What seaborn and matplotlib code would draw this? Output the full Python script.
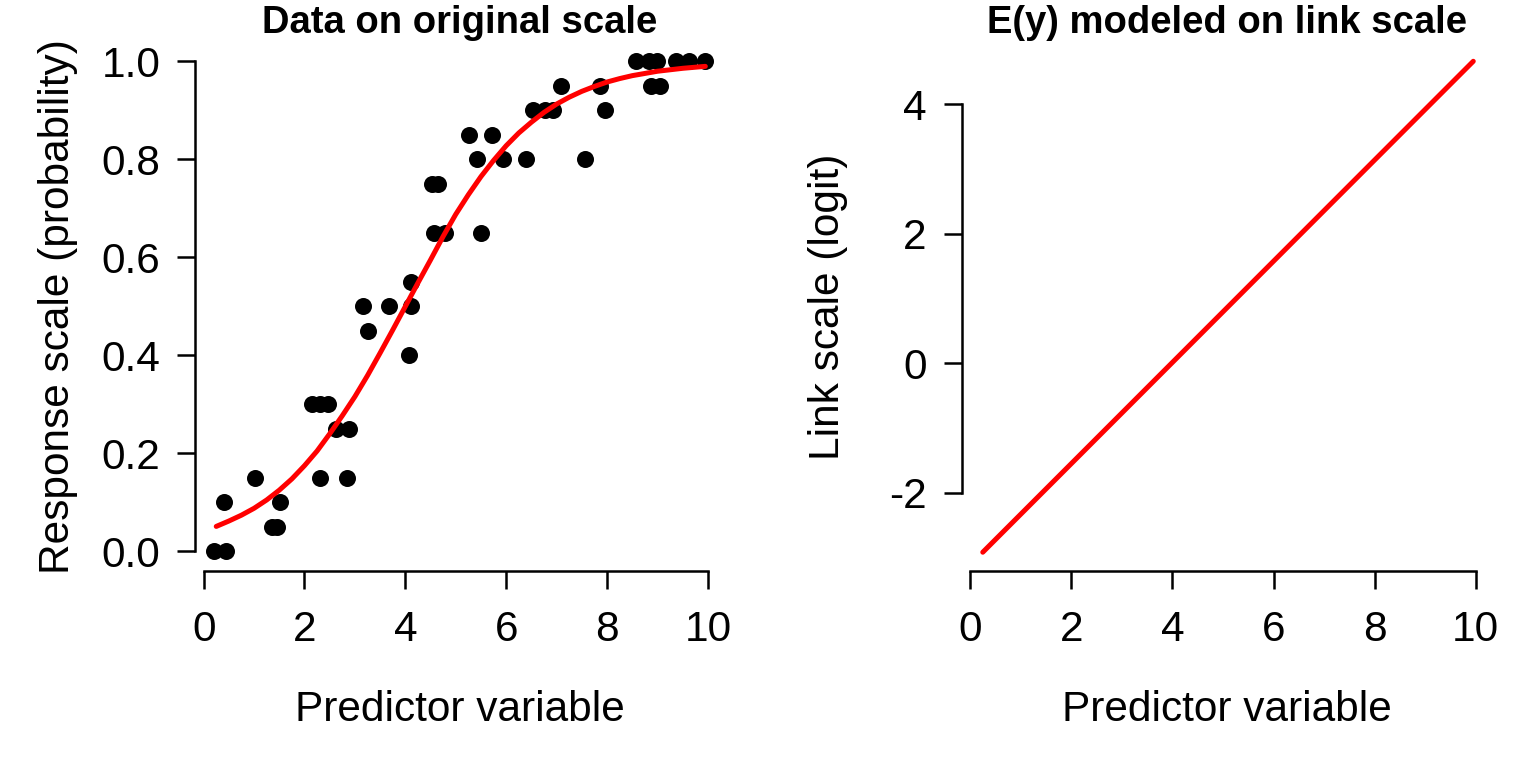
import numpy as np
import pandas as pd
import seaborn as sns
import matplotlib.pyplot as plt

x_obs = [0.20, 0.40, 0.44, 1.01, 1.36, 1.45, 1.51, 2.14, 2.30, 2.30, 2.47,
         2.63, 2.85, 2.88, 3.17, 3.25, 3.67, 4.07, 4.12, 4.12, 4.52, 4.56,
         4.65, 4.78, 5.26, 5.43, 5.51, 5.71, 5.93, 6.40, 6.53, 6.77, 6.93,
         7.08, 7.57, 7.87, 7.96, 8.57, 8.83, 8.88, 9.00, 9.05, 9.37, 9.62, 9.95]
y_obs = [0.00, 0.10, 0.00, 0.15, 0.05, 0.05, 0.10, 0.30, 0.30, 0.15, 0.30,
         0.25, 0.15, 0.25, 0.50, 0.45, 0.50, 0.40, 0.50, 0.55, 0.75, 0.65,
         0.75, 0.65, 0.85, 0.80, 0.65, 0.85, 0.80, 0.80, 0.90, 0.90, 0.90,
         0.95, 0.80, 0.95, 0.90, 1.00, 1.00, 0.95, 1.00, 0.95, 1.00, 1.00, 1.00]

# fitted curve on response scale
x_fit = [0.25, 0.5, 0.75, 1.0, 1.25, 1.5, 1.75, 2.0, 2.25, 2.5, 2.75, 3.0,
         3.25, 3.5, 3.75, 4.0, 4.25, 4.5, 4.75, 5.0, 5.25, 5.5, 5.75, 6.0,
         6.25, 6.5, 6.75, 7.0, 7.25, 7.5, 7.75, 8.0, 8.25, 8.5, 9.0, 9.5, 9.95]
p_fit = [0.051, 0.062, 0.074, 0.088, 0.105, 0.125, 0.148, 0.175, 0.205, 0.240,
         0.277, 0.316, 0.359, 0.405, 0.452, 0.500, 0.548, 0.595, 0.643, 0.688,
         0.728, 0.765, 0.798, 0.828, 0.854, 0.876, 0.896, 0.913, 0.927, 0.939,
         0.949, 0.958, 0.965, 0.971, 0.980, 0.986, 0.990]

# fitted line on link scale (end points of the red line)
x_link = [0.25, 9.95]
eta_link = [-2.92, 4.66]

obs = pd.DataFrame({"x": x_obs, "y": y_obs})
fit = pd.DataFrame({"x": x_fit, "p": p_fit})
link = pd.DataFrame({"x": x_link, "eta": eta_link})

sns.set_style("ticks")
plt.rcParams["font.family"] = ["Liberation Sans", "DejaVu Sans"]
plt.rcParams["text.color"] = "black"
plt.rcParams["axes.labelcolor"] = "black"

FS = 30.5

fig = plt.figure(figsize=(15.36, 7.68), dpi=100)
ax1 = fig.add_axes([0.127, 0.2565, 0.345, 0.689])
ax2 = fig.add_axes([0.626, 0.2565, 0.346, 0.689])

sns.scatterplot(data=obs, x="x", y="y", ax=ax1, color="black", s=150, linewidth=0)
sns.lineplot(data=fit, x="x", y="p", ax=ax1, color="red", linewidth=3.6)
sns.lineplot(data=link, x="x", y="eta", ax=ax2, color="red", linewidth=3.6)

def r_style(ax, ylo, yhi, yticks, ylabels):
    ax.set_xlim(-0.17, 10.34)
    ax.set_ylim(ylo, yhi)
    ax.set_xticks([0, 2, 4, 6, 8, 10])
    ax.set_yticks(yticks)
    ax.set_yticklabels(ylabels)
    for s in ["top", "right"]:
        ax.spines[s].set_visible(False)
    ax.spines["bottom"].set_bounds(0, 10)
    ax.spines["left"].set_bounds(yticks[0], yticks[-1])
    for s in ["bottom", "left"]:
        ax.spines[s].set_linewidth(1.8)
        ax.spines[s].set_color("black")
    ax.tick_params(axis="both", direction="out", length=13, width=1.8,
                   colors="black", labelsize=FS)
    ax.tick_params(axis="x", pad=15)
    ax.tick_params(axis="y", pad=12)
    ax.set_xlabel("Predictor variable", fontsize=FS)
    ax.xaxis.set_label_coords(0.5, -0.263)
    ax.xaxis.label.set_va("center")

r_style(ax1, -0.04, 1.04, [0, 0.2, 0.4, 0.6, 0.8, 1.0],
        ["0.0", "0.2", "0.4", "0.6", "0.8", "1.0"])
ax1.set_ylabel("Response scale (probability)", fontsize=FS)
ax1.yaxis.set_label_coords(-0.258, 0.5)
ax1.yaxis.label.set_va("center")
ax1.set_title("Data on original scale", fontsize=27.5, fontweight="bold",
              y=1.036, va="center", pad=0)

r_style(ax2, -3.21, 4.96, [-2, 0, 2, 4], ["-2", "0", "2", "4"])
ax2.set_ylabel("Link scale (logit)", fontsize=FS)
ax2.yaxis.set_label_coords(-0.252, 0.5)
ax2.yaxis.label.set_va("center")
ax2.set_title("E(y) modeled on link scale", fontsize=27.5, fontweight="bold",
              y=1.036, va="center", pad=0)

fig.savefig("out.png", dpi=100, facecolor="white")
